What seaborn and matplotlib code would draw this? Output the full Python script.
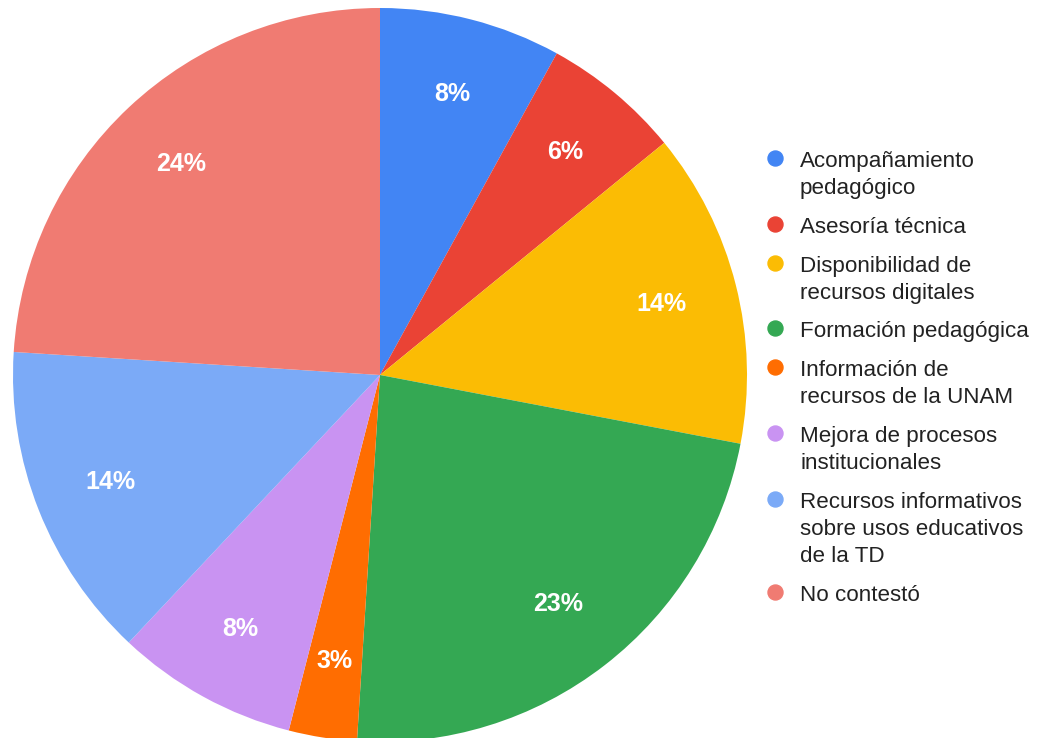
import matplotlib
matplotlib.use("Agg")
import matplotlib.pyplot as plt
import seaborn as sns

# data
categories = [
    "Acompañamiento\npedagógico",
    "Asesoría técnica",
    "Disponibilidad de\nrecursos digitales",
    "Formación pedagógica",
    "Información de\nrecursos de la UNAM",
    "Mejora de procesos\ninstitucionales",
    "Recursos informativos\nsobre usos educativos\nde la TD",
    "No contestó",
]
shares = [8.0, 6.1, 13.9, 23.0, 3.0, 8.0, 14.0, 24.0]
colors = ["#4285F4", "#EA4335", "#FBBC04", "#34A853",
          "#FF6D01", "#C993F2", "#7BAAF7", "#F07B72"]

sns.set_theme(style="white")
plt.rcParams["font.family"] = ["Liberation Sans", "DejaVu Sans"]

W, H = 1042, 738
fig = plt.figure(figsize=(W / 100, H / 100), dpi=100)

# pie centre (380, 375) px, radius 367 px
cx, cy, r = 380, 375, 367
ax = fig.add_axes([(cx - r) / W, (H - cy - r) / H, 2 * r / W, 2 * r / H])
wedges, texts, autotexts = ax.pie(
    shares, colors=colors, startangle=90, counterclock=False,
    autopct="%.0f%%", pctdistance=0.79,
    wedgeprops=dict(linewidth=0, edgecolor="none", antialiased=True),
    textprops=dict(color="white", fontsize=18, fontweight="bold"),
)
ax.set_xlim(-1, 1)
ax.set_ylim(-1, 1)
ax.axis("off")

# legend, drawn by hand so the dot sits on the first line
y = 167
for label, col in zip(categories, colors):
    lines = label.split("\n")
    fig.add_artist(plt.Line2D([775 / W], [(H - y + 9) / H], marker="o",
                              markersize=10.8, color=col, linestyle="none",
                              transform=fig.transFigure))
    for i, line in enumerate(lines):
        fig.text(800 / W, (H - y) / H, line, fontsize=16.1, color="#222222",
                 va="baseline", ha="left")
        if i < len(lines) - 1:
            y += 27
    y += 38.8

fig.savefig("out.png", dpi=100)
